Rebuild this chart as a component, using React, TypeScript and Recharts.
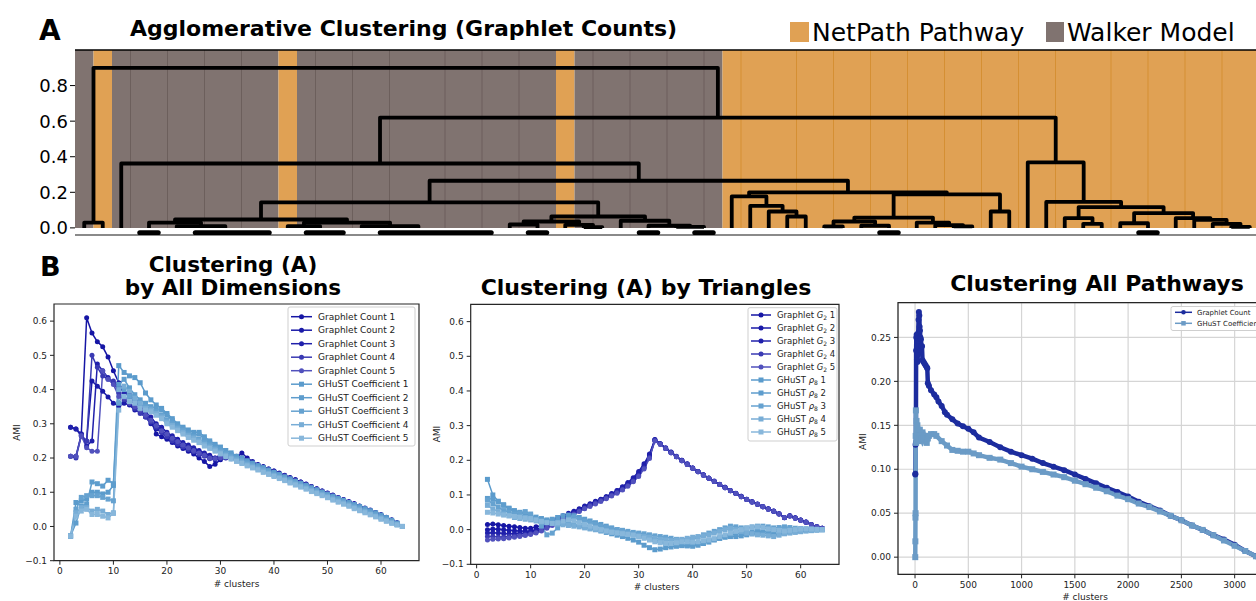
import React from 'react';
import { LineChart, Line, XAxis, YAxis, ReferenceArea, ReferenceLine, CartesianGrid } from 'recharts';

const FONT = "'DejaVu Sans', 'Liberation Sans', sans-serif";
const ORANGE = '#e0a154';
const GRAY = '#807370';
const ORANGE_SEP = '#d58f33';
const GRAY_SEP = '#6c5f5c';
const BLOB_Y = -0.027;

// ---------------- Panel A: dendrogram data ----------------
const leafIsNetPath = [0,1,0,0,0,0,0,0,0,0, 0,1,0,0,0,0,0,0,0,0, 0,0,0,0,0,0,1,0,0,0, 0,0,0,0,0,1,1,1,1,1, 1,1,1,1,1,1,1,1,1,1, 1,1,1,1,1,1,1,1,1,1, 1,1,1,1];
const leafSeparators = [3,5,7,9,13,15,17,20,22,24,28,30,32,34,36,39,41,43,45,47,49,51,53,56,58,60,62];
const dendroTicks = [0, 0.2, 0.4, 0.6, 0.8];

// merge tree: [left, right, height]; leaves are leaf indices
const walkerLow = [[[3,4,0],[5,[[6,7,0],[8,[9,10,0],0],0],0.01],0.03],[[11,[12,[13,14,0],0],0.01],[15,[[16,17,0],[[18,19,0],[20,[21,22,0],0],0],0],0.01],0.03],0.047];
const walkerMid = [[[23,[24,25,0],0.019],[26,[27,28,0.004],0.017],0.036],[29,[[30,31,0],[32,[33,34,0],0.006],0.012],0.04],0.064];
const netpathA = [[35,[36,[37,[38,39,0.064],0.092],0.124],0.177],[[[[40,41,0.008],[42,[43,44,0],0.012],0.036],[45,[46,[47,48,0.008],0.016],0.03],0.058],[49,50,0.092],0.188],0.2];
const netpathB = [51,[52,[[53,[54,55,0.023],0.055],[[56,[57,58,0],0.026],[59,[60,[61,[62,63,0.006],0.023],0.045],0.055],0.083],0.117],0.146],0.368];
const dendrogram = [[0,1,0.03],[[2,[[walkerLow,walkerMid,0.143],netpathA,0.265],0.362],netpathB,0.62],0.9];

// ---------------- Panel B data ----------------
const clusterCounts = Array.from({ length: 63 }, (_, i) => i + 2);

const dimGc1 = [0.205,0.205,0.27,0.61,0.565,0.54,0.525,0.495,0.455, 0.42,0.39,0.385,0.37,0.345,0.33,0.31,0.27,0.262,0.255, 0.245,0.235,0.228,0.22,0.212,0.2,0.19,0.175,0.182,0.195, 0.2,0.205,0.2,0.215,0.2,0.19,0.18,0.172,0.165,0.16, 0.152,0.146,0.14,0.133,0.126,0.12,0.113,0.106,0.1,0.094, 0.088,0.082,0.075,0.07,0.064,0.057,0.05,0.044,0.038,0.032, 0.025,0.018,0.01,0.0];
const dimGc2 = [0.29,0.285,0.265,0.25,0.425,0.41,0.395,0.378,0.36, 0.352,0.36,0.355,0.34,0.335,0.32,0.3,0.285,0.275,0.265, 0.255,0.245,0.24,0.232,0.225,0.218,0.21,0.2,0.195,0.2, 0.205,0.2,0.205,0.198,0.19,0.185,0.18,0.175,0.168,0.162, 0.156,0.15,0.143,0.137,0.13,0.124,0.117,0.11,0.104,0.098, 0.092,0.085,0.079,0.073,0.067,0.06,0.054,0.048,0.041,0.035, 0.027,0.02,0.011,0.0];
const dimGc3 = [0.29,0.285,0.27,0.235,0.25,0.475,0.455,0.435,0.42, 0.41,0.39,0.38,0.365,0.35,0.335,0.32,0.3,0.29,0.275, 0.265,0.255,0.245,0.238,0.23,0.222,0.215,0.208,0.2,0.21, 0.212,0.208,0.204,0.2,0.193,0.187,0.18,0.174,0.168,0.162, 0.155,0.149,0.142,0.136,0.13,0.123,0.117,0.11,0.104,0.097, 0.09,0.084,0.078,0.071,0.065,0.059,0.052,0.046,0.04,0.033, 0.026,0.018,0.01,0.0];
const dimGc4 = [0.205,0.2,0.265,0.25,0.5,0.465,0.44,0.43,0.425, 0.39,0.37,0.36,0.345,0.33,0.32,0.305,0.29,0.275,0.262, 0.25,0.24,0.232,0.225,0.218,0.21,0.205,0.198,0.2,0.205, 0.21,0.205,0.2,0.195,0.19,0.184,0.178,0.172,0.166,0.16, 0.154,0.148,0.141,0.135,0.129,0.122,0.116,0.109,0.103,0.096, 0.09,0.083,0.077,0.071,0.064,0.058,0.051,0.045,0.039,0.032, 0.025,0.017,0.009,0.0];
const dimGc5 = [0.205,0.205,0.265,0.23,0.22,0.22,0.455,0.43,0.415, 0.38,0.375,0.36,0.35,0.34,0.325,0.31,0.295,0.28,0.27, 0.258,0.248,0.238,0.23,0.222,0.215,0.208,0.2,0.198,0.2, 0.202,0.198,0.196,0.192,0.186,0.181,0.175,0.169,0.163,0.157, 0.151,0.145,0.139,0.133,0.127,0.121,0.115,0.108,0.102,0.096, 0.09,0.083,0.077,0.07,0.064,0.057,0.051,0.045,0.038,0.032, 0.025,0.017,0.009,0.0];
const dimGh1 = [-0.028,0.07,0.075,0.08,0.1,0.1,0.095,0.1,0.12, 0.47,0.45,0.44,0.435,0.42,0.39,0.37,0.355,0.345,0.33, 0.315,0.3,0.29,0.282,0.275,0.275,0.262,0.25,0.24,0.232, 0.222,0.215,0.205,0.2,0.192,0.185,0.178,0.172,0.165,0.158, 0.152,0.145,0.139,0.132,0.126,0.12,0.113,0.107,0.1,0.094, 0.088,0.082,0.076,0.07,0.064,0.058,0.052,0.046,0.04,0.033, 0.026,0.018,0.01,0.0];
const dimGh2 = [-0.028,0.01,0.06,0.065,0.13,0.125,0.118,0.135,0.125, 0.415,0.43,0.405,0.385,0.37,0.36,0.35,0.345,0.34,0.325, 0.31,0.295,0.285,0.275,0.265,0.27,0.255,0.245,0.235,0.225, 0.215,0.21,0.2,0.195,0.188,0.18,0.175,0.168,0.162,0.155, 0.149,0.143,0.136,0.13,0.124,0.117,0.111,0.104,0.098,0.092, 0.085,0.079,0.073,0.066,0.06,0.054,0.047,0.041,0.035,0.028, 0.021,0.014,0.007,0.0];
const dimGh3 = [-0.028,0.05,0.085,0.09,0.09,0.09,0.085,0.08,0.075, 0.36,0.4,0.38,0.37,0.355,0.35,0.345,0.335,0.325,0.31, 0.3,0.29,0.28,0.27,0.262,0.255,0.245,0.238,0.228,0.22, 0.212,0.205,0.198,0.192,0.185,0.178,0.172,0.166,0.16,0.153, 0.147,0.141,0.134,0.128,0.122,0.116,0.109,0.103,0.097,0.09, 0.084,0.078,0.072,0.065,0.059,0.053,0.046,0.04,0.034,0.027, 0.02,0.013,0.006,0.0];
const dimGh4 = [-0.028,0.04,0.055,0.055,0.045,0.05,0.045,0.035,0.04, 0.4,0.41,0.395,0.375,0.36,0.345,0.34,0.33,0.32,0.305, 0.295,0.285,0.275,0.265,0.258,0.25,0.24,0.232,0.224,0.215, 0.208,0.2,0.194,0.188,0.18,0.174,0.168,0.162,0.155,0.149, 0.143,0.137,0.13,0.124,0.118,0.112,0.105,0.099,0.093,0.087, 0.08,0.074,0.068,0.062,0.055,0.049,0.043,0.036,0.03,0.024, 0.018,0.012,0.006,0.0];
const dimGh5 = [-0.028,0.03,0.045,0.05,0.035,0.035,0.03,0.025,0.038, 0.34,0.38,0.365,0.36,0.345,0.34,0.335,0.325,0.315,0.3, 0.29,0.28,0.27,0.26,0.252,0.245,0.235,0.228,0.22,0.212, 0.204,0.197,0.19,0.184,0.177,0.171,0.165,0.158,0.152,0.146, 0.14,0.134,0.127,0.121,0.115,0.109,0.102,0.096,0.09,0.084, 0.077,0.071,0.065,0.059,0.052,0.046,0.04,0.034,0.028,0.021, 0.015,0.009,0.004,0.0];

const triG1 = [0.015,0.016,0.014,0.012,0.01,0.008,0.006,0.004,0.004, 0.008,0.012,0.018,0.025,0.032,0.04,0.047,0.053,0.06,0.068, 0.075,0.082,0.088,0.095,0.103,0.112,0.122,0.133,0.147,0.163, 0.185,0.215,0.26,0.248,0.236,0.224,0.212,0.2,0.19,0.178, 0.168,0.158,0.149,0.14,0.131,0.122,0.113,0.105,0.096,0.088, 0.081,0.074,0.067,0.06,0.054,0.046,0.034,0.04,0.034,0.028, 0.022,0.015,0.008,0.004];
const triG2 = [0.0,0.002,0.001,0.0,-0.002,-0.003,-0.004,-0.005,-0.004, 0.0,0.006,0.013,0.02,0.028,0.036,0.043,0.05,0.057,0.064, 0.07,0.077,0.084,0.092,0.1,0.108,0.118,0.13,0.142,0.158, 0.18,0.21,0.258,0.247,0.234,0.222,0.21,0.199,0.188,0.177, 0.167,0.157,0.148,0.139,0.13,0.121,0.112,0.104,0.095,0.087, 0.08,0.073,0.066,0.059,0.053,0.045,0.035,0.039,0.033,0.027, 0.021,0.014,0.008,0.004];
const triG3 = [-0.01,-0.009,-0.01,-0.011,-0.012,-0.012,-0.011,-0.01,-0.008, -0.004,0.002,0.01,0.018,0.026,0.034,0.042,0.05,0.058,0.066, 0.073,0.08,0.087,0.095,0.104,0.113,0.124,0.136,0.15,0.168, 0.19,0.218,0.259,0.248,0.235,0.223,0.211,0.2,0.189,0.178, 0.168,0.158,0.148,0.139,0.13,0.122,0.113,0.104,0.096,0.088, 0.08,0.073,0.066,0.06,0.053,0.046,0.034,0.04,0.034,0.028, 0.022,0.015,0.008,0.004];
const triG4 = [-0.02,-0.02,-0.021,-0.021,-0.02,-0.019,-0.017,-0.015,-0.012, -0.008,-0.002,0.006,0.014,0.022,0.03,0.038,0.046,0.054,0.062, 0.07,0.077,0.084,0.091,0.099,0.107,0.116,0.127,0.14,0.156, 0.178,0.208,0.257,0.246,0.234,0.222,0.21,0.199,0.188,0.177, 0.167,0.157,0.148,0.139,0.13,0.121,0.112,0.104,0.095,0.087, 0.08,0.073,0.066,0.059,0.053,0.045,0.035,0.039,0.033,0.027, 0.021,0.014,0.008,0.004];
const triG5 = [-0.03,-0.028,-0.027,-0.026,-0.024,-0.022,-0.02,-0.017,-0.014, -0.01,-0.004,0.004,0.012,0.02,0.028,0.036,0.044,0.052,0.06, 0.067,0.074,0.081,0.089,0.097,0.105,0.114,0.125,0.138,0.153, 0.175,0.205,0.256,0.246,0.234,0.222,0.21,0.199,0.188,0.177, 0.167,0.157,0.148,0.139,0.13,0.121,0.112,0.104,0.095,0.087, 0.08,0.073,0.066,0.059,0.053,0.045,0.035,0.039,0.033,0.027, 0.021,0.014,0.008,0.004];
const triR1 = [0.145,0.1,0.082,0.07,0.062,0.055,0.05,0.045,0.04, 0.036,0.032,0.028,0.025,0.022,0.02,0.018,0.015,0.012,0.008, 0.004,0.0,-0.004,-0.008,-0.012,-0.016,-0.02,-0.025,-0.03,-0.036, -0.045,-0.052,-0.058,-0.056,-0.052,-0.05,-0.048,-0.046,-0.045,-0.044, -0.04,-0.035,-0.03,-0.028,-0.025,-0.022,-0.02,-0.02,-0.018,-0.015, -0.012,-0.01,-0.01,-0.012,-0.015,-0.012,-0.01,-0.008,-0.006,-0.004, -0.003,-0.002,-0.001,0.0];
const triR2 = [0.09,0.088,0.08,0.072,0.06,0.05,0.042,0.038,0.035, 0.03,0.028,0.026,0.03,0.035,0.04,0.042,0.04,0.035,0.03, 0.025,0.02,0.015,0.01,0.005,0.0,-0.005,-0.01,-0.012,-0.015, -0.02,-0.025,-0.03,-0.035,-0.04,-0.042,-0.045,-0.046,-0.047,-0.048, -0.045,-0.04,-0.036,-0.03,-0.025,-0.02,-0.015,-0.012,-0.01,-0.008, -0.006,-0.004,-0.005,-0.006,-0.005,-0.004,-0.003,-0.002,-0.002,-0.001, 0.0,0.0,0.0,0.0];
const triR3 = [0.085,0.075,0.065,0.055,0.05,0.045,0.048,0.052,0.045, 0.03,0.01,-0.015,-0.01,0.005,0.02,0.03,0.035,0.03,0.025, 0.02,0.015,0.01,0.006,0.003,0.0,-0.002,-0.005,-0.008,-0.01, -0.012,-0.015,-0.018,-0.02,-0.022,-0.025,-0.028,-0.03,-0.03,-0.028, -0.022,-0.015,-0.01,-0.005,0.0,0.005,0.01,0.008,0.005,0.005, 0.008,0.01,0.01,0.008,0.005,0.006,0.008,0.006,0.004,0.003, 0.002,0.001,0.0,0.0];
const triR4 = [0.07,0.06,0.052,0.045,0.04,0.035,0.032,0.03,0.028, 0.025,0.022,0.02,0.018,0.016,0.014,0.012,0.01,0.008,0.005, 0.002,0.0,-0.002,-0.004,-0.006,-0.008,-0.01,-0.012,-0.015,-0.018, -0.02,-0.022,-0.025,-0.028,-0.03,-0.032,-0.03,-0.028,-0.025,-0.022, -0.02,-0.018,-0.015,-0.01,-0.005,0.0,0.003,0.0,-0.005,-0.01, -0.012,-0.015,-0.016,-0.018,-0.02,-0.016,-0.012,-0.01,-0.008,-0.006, -0.004,-0.003,-0.001,0.0];
const triR5 = [0.05,0.048,0.045,0.042,0.04,0.038,0.036,0.034,0.032, 0.028,0.024,0.02,0.018,0.02,0.025,0.028,0.025,0.02,0.015, 0.01,0.005,0.0,-0.004,-0.008,-0.01,-0.012,-0.014,-0.016,-0.02, -0.025,-0.03,-0.035,-0.038,-0.04,-0.04,-0.038,-0.035,-0.035,-0.036, -0.035,-0.032,-0.03,-0.026,-0.02,-0.015,-0.01,-0.005,0.0,0.004, 0.006,0.008,0.006,0.002,0.0,-0.002,-0.004,-0.002,0.0,0.002, 0.003,0.002,0.001,0.0];

const allGcClusters = [2,3,5,8,10,12,15,18,20,22,25,28,30,33,36,40,43,46,50,55,60,65,70,80,90,100,110,115,120,130,150,180,200,220,250,280,300,350,400,450,500,550,600,700,800,900,1000,1100,1200,1300,1400,1500,1600,1700,1800,1900,2000,2100,2200,2300,2400,2500,2600,2700,2800,2900,3000,3100,3200];
const allGcAmi = [0.094,0.095,0.128,0.13,0.235,0.25,0.253,0.225,0.24,0.222,0.23,0.25,0.255,0.27,0.279,0.275,0.262,0.258,0.25,0.248,0.24,0.24,0.224,0.222,0.22,0.218,0.216,0.215,0.198,0.195,0.19,0.185,0.182,0.177,0.172,0.165,0.162,0.157,0.152,0.149,0.146,0.142,0.136,0.131,0.125,0.12,0.116,0.112,0.107,0.103,0.099,0.094,0.089,0.084,0.079,0.074,0.069,0.063,0.058,0.053,0.047,0.042,0.036,0.031,0.025,0.02,0.014,0.007,0.001];
const allGhClusters = [2,3,4,5,6,8,10,14,18,22,26,30,35,40,45,50,60,70,80,90,100,110,120,130,150,180,200,250,300,350,400,450,500,550,600,700,800,900,1000,1100,1200,1300,1400,1500,1600,1700,1800,1900,2000,2100,2200,2300,2400,2500,2600,2700,2800,2900,3000,3100,3200];
const allGhAmi = [0.0,0.018,0.045,0.05,0.138,0.167,0.13,0.155,0.14,0.15,0.135,0.145,0.132,0.14,0.145,0.138,0.135,0.142,0.135,0.138,0.135,0.13,0.135,0.138,0.14,0.14,0.138,0.132,0.127,0.122,0.121,0.12,0.12,0.118,0.116,0.113,0.111,0.107,0.103,0.1,0.097,0.094,0.091,0.087,0.083,0.079,0.075,0.07,0.066,0.061,0.057,0.052,0.047,0.042,0.036,0.031,0.025,0.019,0.013,0.007,0.001];

const smallXTicks = [0, 10, 20, 30, 40, 50, 60];
const amiTicks = [-0.1, 0, 0.1, 0.2, 0.3, 0.4, 0.5, 0.6];
const allXTicks = [0, 500, 1000, 1500, 2000, 2500, 3000];
const allYTicks = [0, 0.05, 0.1, 0.15, 0.2, 0.25];

const gcColors = ['#1616a5', '#1a1aa8', '#2020ab', '#3a3ab3', '#5151bd'];
const ghColors = ['#5b9bcc', '#5e9dcd', '#66a2d0', '#78add6', '#88b7db'];
const allGcColor = '#1c2c9e';
const allGhColor = '#6b9bc6';

// ---------------- helpers ----------------
type Pt = { x: number; y: number };
function layoutTree(node: any, links: Pt[][], blobs: Pt[][]): { x: number; h: number; lo: number; hi: number } {
  if (typeof node === 'number') {
    const x = node * 10 + 5;
    return { x, h: 0, lo: x, hi: x };
  }
  const l = layoutTree(node[0], links, blobs);
  const r = layoutTree(node[1], links, blobs);
  const h = node[2];
  if (h > 0) {
    links.push([{ x: l.x, y: l.h }, { x: l.x, y: h }, { x: r.x, y: h }, { x: r.x, y: r.h }]);
    [[node[0], l], [node[1], r]].forEach(([c, info]: any) => {
      if (typeof c !== 'number' && info.h === 0) blobs.push([{ x: info.lo, y: BLOB_Y }, { x: info.hi, y: BLOB_Y }]);
    });
  }
  return { x: (l.x + r.x) / 2, h, lo: Math.min(l.lo, r.lo), hi: Math.max(l.hi, r.hi) };
}

const toPts = (ks: number[], vs: number[]) => ks.map((k, i) => ({ k, v: vs[i] }));

type Series = { label: React.ReactNode; points: { k: number; v: number }[]; color: string; marker: 'circle' | 'square' };

function makeDot(marker: string, color: string, size: number) {
  if (marker === 'circle') return { r: size / 2, fill: color, stroke: 'none' };
  return (p: any) =>
    p.cx == null || p.cy == null ? <g key={p.index} /> : (
      <rect key={p.index} x={p.cx - size / 2} y={p.cy - size / 2} width={size} height={size} fill={color} />
    );
}

const fmtAmi1 = (v: number) => (v < -1e-9 ? '\u2212' : '') + Math.abs(v).toFixed(1);
const fmtAmi2 = (v: number) => (v < -1e-9 ? '\u2212' : '') + Math.abs(v).toFixed(2);

function PanelA() {
  const links: Pt[][] = [];
  const blobs: Pt[][] = [];
  layoutTree(dendrogram, links, blobs);
  const runs: { np: number; start: number; end: number }[] = [];
  leafIsNetPath.forEach((v, i) => {
    const last = runs[runs.length - 1];
    if (last && last.np === v) last.end = i + 1;
    else runs.push({ np: v, start: i, end: i + 1 });
  });
  return (
    <div style={{ position: 'absolute', left: 0, top: 0 }}>
      <LineChart width={1270} height={245} margin={{ top: 50, right: 11, bottom: 10, left: 0 }}>
        <XAxis type="number" dataKey="x" domain={[0, 640]} hide allowDataOverflow />
        <YAxis
          type="number"
          domain={[-0.04, 1.0]}
          ticks={dendroTicks}
          tickFormatter={(v: number) => v.toFixed(1)}
          width={75}
          axisLine={false}
          tickLine={{ stroke: '#000' }}
          tickSize={5}
          tickMargin={2}
          tick={{ fontSize: 18, fill: '#000', fontFamily: FONT }}
          allowDataOverflow
          interval={0}
        />
        {runs.map((r) => (
          <ReferenceArea key={'run' + r.start} x1={r.start * 10} x2={r.end * 10} y1={0} y2={1} fill={r.np ? ORANGE : GRAY} fillOpacity={1} stroke="none" />
        ))}
        {leafSeparators.map((b) => (
          <ReferenceLine key={'sep' + b} segment={[{ x: b * 10, y: 0 }, { x: b * 10, y: 1 }]} stroke={leafIsNetPath[b] ? ORANGE_SEP : GRAY_SEP} strokeWidth={1} />
        ))}
        <ReferenceLine y={1} stroke="#000" strokeWidth={1.5} />
        <ReferenceLine y={-0.04} stroke="#8a8a8a" strokeWidth={2} />
        {links.map((pts, i) => (
          <Line key={'lk' + i} data={pts} dataKey="y" type="linear" stroke="#000" strokeWidth={3.8} dot={false} activeDot={false} isAnimationActive={false} strokeLinejoin="round" />
        ))}
        {blobs.map((pts, i) => (
          <Line key={'bl' + i} data={pts} dataKey="y" type="linear" stroke="#000" strokeWidth={5} strokeLinecap="round" dot={false} activeDot={false} isAnimationActive={false} />
        ))}
      </LineChart>
    </div>
  );
}

function MetricChart(props: {
  left: number; top: number; width: number; height: number;
  margin: { top: number; right: number; bottom: number; left: number };
  yWidth: number; xHeight: number;
  xDomain: [number, number]; xTicks: number[];
  yDomain: [number, number]; yTicks: number[]; yFormat: (v: number) => string;
  series: Series[]; grid?: boolean; lineWidth: number; dotSize: number;
}) {
  const p = props;
  return (
    <div style={{ position: 'absolute', left: p.left, top: p.top }}>
      <LineChart width={p.width} height={p.height} margin={p.margin}>
        {p.grid && <CartesianGrid stroke="#d5d5d5" strokeWidth={1.2} />}
        <XAxis
          type="number" dataKey="k" domain={p.xDomain} ticks={p.xTicks} allowDataOverflow interval={0}
          axisLine={false} tickLine={{ stroke: '#222' }} tickSize={4} tickMargin={3} height={p.xHeight}
          tick={{ fontSize: 9, fill: '#222', fontFamily: FONT }}
        />
        <YAxis
          type="number" domain={p.yDomain} ticks={p.yTicks} allowDataOverflow interval={0} tickFormatter={p.yFormat}
          axisLine={false} tickLine={{ stroke: '#222' }} tickSize={4} tickMargin={3} width={p.yWidth}
          tick={{ fontSize: 9, fill: '#222', fontFamily: FONT }}
        />
        {p.series.map((s, i) => (
          <Line
            key={'s' + i} data={s.points} dataKey="v" type="linear" stroke={s.color} strokeWidth={p.lineWidth}
            dot={makeDot(s.marker, s.color, p.dotSize) as any} activeDot={false} isAnimationActive={false}
          />
        ))}
        <ReferenceArea x1={p.xDomain[0]} x2={p.xDomain[1]} y1={p.yDomain[0]} y2={p.yDomain[1]} fill="none" stroke="#262626" strokeWidth={1.2} ifOverflow="visible" />
      </LineChart>
    </div>
  );
}

function LegendBox(props: { x: number; y: number; w: number; h: number; items: Series[]; firstY: number; gap: number; lx1: number; lx2: number; tx: number; fs: number; mk: number }) {
  const p = props;
  const mx = (p.lx1 + p.lx2) / 2;
  return (
    <g>
      <rect x={p.x} y={p.y} width={p.w} height={p.h} rx={2} fill="#fff" fillOpacity={0.85} stroke="#cfcfcf" strokeWidth={1} />
      {p.items.map((it, i) => {
        const cy = p.firstY + p.gap * i;
        return (
          <g key={i}>
            <line x1={p.lx1} x2={p.lx2} y1={cy} y2={cy} stroke={it.color} strokeWidth={1.5} />
            {it.marker === 'circle'
              ? <circle cx={mx} cy={cy} r={p.mk / 2} fill={it.color} />
              : <rect x={mx - p.mk / 2} y={cy - p.mk / 2} width={p.mk} height={p.mk} fill={it.color} />}
            <text x={p.tx} y={cy + p.fs * 0.36} fontSize={p.fs} fill="#222">{it.label}</text>
          </g>
        );
      })}
    </g>
  );
}

const g2Label = (n: number) => (<>Graphlet <tspan fontStyle="italic">G</tspan><tspan fontSize={6} dy={2}>2</tspan><tspan dy={-2}> {n}</tspan></>);
const rhoLabel = (n: number) => (<>GHuST <tspan fontStyle="italic">ρ</tspan><tspan fontSize={6} dy={2}>8</tspan><tspan dy={-2}> {n}</tspan></>);

export default function App() {
  const dimGc = [dimGc1, dimGc2, dimGc3, dimGc4, dimGc5];
  const dimGh = [dimGh1, dimGh2, dimGh3, dimGh4, dimGh5];
  const triG = [triG1, triG2, triG3, triG4, triG5];
  const triR = [triR1, triR2, triR3, triR4, triR5];

  const dimSeries: Series[] = [
    ...dimGc.map((vs, i) => ({ label: `Graphlet Count ${i + 1}`, points: toPts(clusterCounts, vs), color: gcColors[i], marker: 'circle' as const })),
    ...dimGh.map((vs, i) => ({ label: `GHuST Coefficient ${i + 1}`, points: toPts(clusterCounts, vs), color: ghColors[i], marker: 'square' as const })),
  ];
  const triSeries: Series[] = [
    ...triG.map((vs, i) => ({ label: g2Label(i + 1), points: toPts(clusterCounts, vs), color: gcColors[i], marker: 'circle' as const })),
    ...triR.map((vs, i) => ({ label: rhoLabel(i + 1), points: toPts(clusterCounts, vs), color: ghColors[i], marker: 'square' as const })),
  ];
  const allSeries: Series[] = [
    { label: 'Graphlet Count', points: toPts(allGcClusters, allGcAmi), color: allGcColor, marker: 'circle' },
    { label: 'GHuST Coefficient', points: toPts(allGhClusters, allGhAmi), color: allGhColor, marker: 'square' },
  ];

  return (
    <div style={{ position: 'absolute', left: 0, top: 0, width: 1256, height: 601, overflow: 'hidden', background: '#fff', fontFamily: FONT }}>
      <PanelA />
      <MetricChart
        left={0} top={250} width={425} height={350} margin={{ top: 54, right: 6, bottom: 9.3, left: 0 }}
        yWidth={54} xHeight={30} xDomain={[-1.1, 67.1]} xTicks={smallXTicks} yDomain={[-0.1, 0.65]} yTicks={amiTicks}
        yFormat={fmtAmi1} series={dimSeries} lineWidth={1.5} dotSize={5}
      />
      <MetricChart
        left={420} top={260} width={425} height={340} margin={{ top: 44.3, right: 6, bottom: 5.7, left: 0 }}
        yWidth={50.7} xHeight={30} xDomain={[-1.1, 67.1]} xTicks={smallXTicks} yDomain={[-0.1, 0.65]} yTicks={amiTicks}
        yFormat={fmtAmi1} series={triSeries} lineWidth={1.5} dotSize={5}
      />
      <MetricChart
        left={850} top={260} width={423} height={341} margin={{ top: 42.7, right: 0, bottom: 6.7, left: 0 }}
        yWidth={48} xHeight={20} xDomain={[-160, 3360]} xTicks={allXTicks} yDomain={[-0.0195, 0.2895]} yTicks={allYTicks}
        yFormat={fmtAmi2} series={allSeries} grid lineWidth={4.5} dotSize={6}
      />
      <svg width={1256} height={601} style={{ position: 'absolute', left: 0, top: 0, pointerEvents: 'none' }} fontFamily={FONT}>
        <text x={39} y={40} fontSize={28} fontWeight="bold" fill="#000">A</text>
        <text x={130} y={36} fontSize={22} fontWeight="bold" fill="#000">Agglomerative Clustering (Graphlet Counts)</text>
        <rect x={790} y={22} width={19} height={20} fill={ORANGE} />
        <text x={812} y={41} fontSize={25} fill="#000">NetPath Pathway</text>
        <rect x={1046} y={22} width={18} height={20} fill={GRAY} />
        <text x={1067} y={41} fontSize={25} fill="#000">Walker Model</text>

        <text x={40} y={276} fontSize={27} fontWeight="bold" fill="#000">B</text>
        <text x={233} y={272} fontSize={21.5} fontWeight="bold" textAnchor="middle" fill="#000">Clustering (A)</text>
        <text x={233} y={295} fontSize={21.5} fontWeight="bold" textAnchor="middle" fill="#000">by All Dimensions</text>
        <text x={646} y={295} fontSize={22} fontWeight="bold" textAnchor="middle" fill="#000">Clustering (A) by Triangles</text>
        <text x={1097} y={291} fontSize={22} fontWeight="bold" textAnchor="middle" fill="#000">Clustering All Pathways</text>

        <text x={236.5} y={586.5} fontSize={9} textAnchor="middle" fill="#222"># clusters</text>
        <text x={20.3} y={432.5} fontSize={9} textAnchor="middle" fill="#222" transform="rotate(-90 20.3 432.5)">AMI</text>
        <text x={656.7} y={590} fontSize={9} textAnchor="middle" fill="#222"># clusters</text>
        <text x={440.3} y={434} fontSize={9} textAnchor="middle" fill="#222" transform="rotate(-90 440.3 434)">AMI</text>
        <text x={1085} y={600} fontSize={9} textAnchor="middle" fill="#222"># clusters</text>
        <text x={866.5} y={441.7} fontSize={9} textAnchor="middle" fill="#222" transform="rotate(-90 866.5 441.7)">AMI</text>

        <LegendBox x={288} y={307} w={127} h={139} items={dimSeries} firstY={316.7} gap={13.5} lx1={291} lx2={312} tx={318} fs={9} mk={5} />
        <LegendBox x={748} y={307.7} w={89} h={133.3} items={triSeries} firstY={315} gap={13} lx1={751} lx2={771} tx={777} fs={8.5} mk={5} />
        <LegendBox x={1171} y={306.5} w={100} h={24} items={allSeries} firstY={312.3} gap={11} lx1={1175} lx2={1192} tx={1197} fs={7} mk={4.5} />
      </svg>
    </div>
  );
}
